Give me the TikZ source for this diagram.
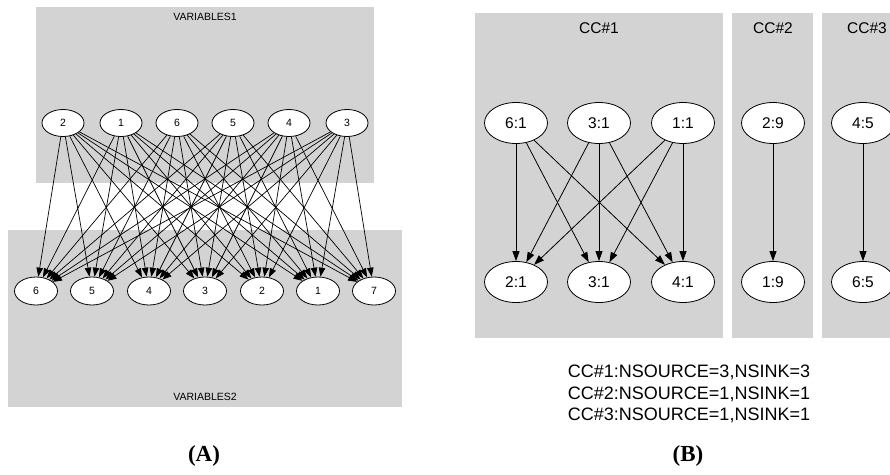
\documentclass[tikz,border=0pt]{standalone}
\usepackage{fontspec}
\setmainfont{Liberation Sans}
\newfontfamily\capfont{Liberation Serif}
\usetikzlibrary{shapes.geometric,arrows.meta}
\definecolor{clgray}{HTML}{D3D3D3}
\begin{document}
\begin{tikzpicture}[x=1pt,y=-1pt,
  cluster/.style={fill=clgray,draw=none},
  anode/.style={ellipse,draw=black,fill=white,line width=0.8pt,inner sep=0pt,
     minimum width=42pt,minimum height=27pt,font=\fontsize{10.5}{12}\selectfont},
  bnode/.style={ellipse,draw=black,fill=white,line width=0.8pt,inner sep=0pt,
     minimum width=63pt,minimum height=41pt,font=\fontsize{15.5}{18}\selectfont},
  edgeA/.style={-{Triangle[length=9pt,width=6.5pt]},line width=0.7pt},
  edgeB/.style={-{Triangle[length=10pt,width=7pt]},line width=0.8pt},
  clabA/.style={font=\fontsize{10.5}{12}\selectfont},
  clabB/.style={font=\fontsize{15.5}{18}\selectfont},
  panel/.style={font=\capfont\bfseries\fontsize{23}{26}\selectfont}]
\useasboundingbox (0,0) rectangle (890,474);
% ---------- (A) ----------
\fill[cluster] (36,7) rectangle (374,183);
\fill[cluster] (8,230) rectangle (402,407);
\node[clabA] (v1) at (205,17) {VARIABLES1};
\node[clabA] (v2) at (205,397) {VARIABLES2};
\foreach \n/\x in {2/63,1/121,6/177,5/233,4/289,3/347}
  \node[anode] (t\n) at (\x,123) {\n};
\foreach \n/\x in {6/36,5/92,4/149,3/205,2/262,1/318,7/374}
  \node[anode,minimum width=43pt,minimum height=28pt] (b\n) at (\x,291) {\n};
\foreach \s in {2,1,6,5,4,3}
  \foreach \t in {6,5,4,3,2,1,7}
    \draw[edgeA] (t\s) -- (b\t);
\node[panel] (pa) at (204,456) {(A)};
% ---------- (B) ----------
\fill[cluster] (475,13) rectangle (723,338);
\fill[cluster] (732,13) rectangle (813,338);
\fill[cluster] (822,13) rectangle (890,338);
\node[clabB] (c1) at (599,28) {CC\#1};
\node[clabB] (c2) at (773,28) {CC\#2};
\node[clabB] (c3) at (867,28) {CC\#3};
\node[bnode] (s61) at (516,123) {6:1};
\node[bnode] (s31) at (599,123) {3:1};
\node[bnode] (s11) at (683,123) {1:1};
\node[bnode] (s29) at (773,123) {2:9};
\node[bnode] (s45) at (863,123) {4:5};
\node[bnode] (k21) at (516,282) {2:1};
\node[bnode] (k31) at (599,282) {3:1};
\node[bnode] (k41) at (683,282) {4:1};
\node[bnode] (k19) at (773,282) {1:9};
\node[bnode] (k65) at (863,282) {6:5};
\foreach \s in {s61,s31,s11}
  \foreach \t in {k21,k31,k41}
    \draw[edgeB] (\s) -- (\t);
\draw[edgeB] (s29) -- (k19);
\draw[edgeB] (s45) -- (k65);
\node[align=center,font=\fontsize{18}{21.5}\selectfont] (stats) at (689,394)
  {CC\#1:NSOURCE=3,NSINK=3\\CC\#2:NSOURCE=1,NSINK=1\\CC\#3:NSOURCE=1,NSINK=1};
\node[panel] (pb) at (688,456) {(B)};
\end{tikzpicture}
\end{document}
